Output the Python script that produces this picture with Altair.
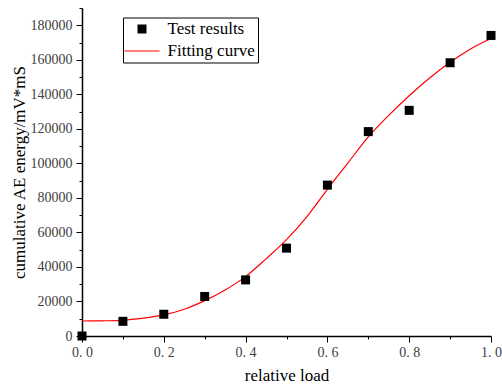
import altair as alt
import pandas as pd

# Test results
test_x = [0.0, 0.1, 0.2, 0.3, 0.4, 0.5, 0.6, 0.7, 0.8, 0.9, 1.0]
test_y = [0, 8500, 12600, 22900, 32500, 50900, 87400, 118400, 130700, 158300, 174100]

# Fitting curve
curve_x = [0.0, 0.05, 0.1, 0.15, 0.2, 0.25, 0.3, 0.35, 0.4, 0.45, 0.5,
           0.55, 0.6, 0.65, 0.7, 0.75, 0.8, 0.85, 0.9, 0.95, 1.0]
curve_y = [8700, 8800, 9100, 10300, 12200, 15500, 20500, 26700, 34400, 44700, 55800,
           69200, 85000, 100200, 115300, 127800, 139200, 149500, 158600, 166300, 172300]

series_names = ["Test results", "Fitting curve"]
x_ticks = [0.0, 0.1, 0.2, 0.3, 0.4, 0.5, 0.6, 0.7, 0.8, 0.9, 1.0]
y_ticks = list(range(0, 190001, 10000))

test_df = pd.DataFrame({"x": test_x, "y": test_y, "series": "Test results"})
curve_df = pd.DataFrame({"x": curve_x, "y": curve_y})

FONT = "Liberation Serif"

x_scale = alt.Scale(domain=[0, 1], nice=False, zero=False)
y_scale = alt.Scale(domain=[0, 190000], nice=False)

x_axis = alt.Axis(
    values=x_ticks,
    title="relative load",
    labelExpr="round(datum.value*10) % 2 == 0 ? replace(format(datum.value, '.1f'), '.', '. ') : ''",
    tickSize={"condition": {"test": "round(datum.value*10) % 2 == 0", "value": 6}, "value": 3},
    grid=False, labelFlush=False, labelOverlap=False,
    domainColor="black", domainWidth=1.5,
    tickColor="black", tickWidth=1,
    labelFont=FONT, labelFontSize=14, labelColor="#404040", labelPadding=3,
    titleFont=FONT, titleFontSize=17, titleFontWeight="normal", titleColor="black",
    titlePadding=8,
)
y_axis = alt.Axis(
    values=y_ticks,
    title="cumulative AE energy/mV*mS",
    labelExpr="round(datum.value/10000) % 2 == 0 ? format(datum.value, 'd') : ''",
    tickSize={"condition": {"test": "round(datum.value/10000) % 2 == 0", "value": 6}, "value": 3},
    grid=False, labelFlush=False, labelOverlap=False,
    domainColor="black", domainWidth=1.5,
    tickColor="black", tickWidth=1,
    labelFont=FONT, labelFontSize=14, labelColor="#404040", labelPadding=4,
    titleFont=FONT, titleFontSize=17, titleFontWeight="normal", titleColor="black",
    titlePadding=2,
)

square_path = "M-1,-1H1V1H-1Z"
line_path = "M-3.9,-0.11H3.9V0.11H-3.9Z"

legend_props = dict(
    title=None, orient="none", legendX=41, legendY=9.5,
    strokeColor="black", fillColor="white", padding=3,
    rowPadding=4, symbolSize=81, symbolStrokeWidth=0,
    symbolOffset=7.5, labelOffset=17,
    labelFont=FONT, labelFontSize=17, labelColor="black",
)

curve = alt.Chart(curve_df).mark_line(
    color="#ff0000", strokeWidth=1.2, interpolate="monotone", clip=False
).encode(
    x=alt.X("x:Q", scale=x_scale, axis=x_axis),
    y=alt.Y("y:Q", scale=y_scale, axis=y_axis),
)

points = alt.Chart(test_df).mark_point(
    filled=True, size=81, opacity=1, strokeWidth=0, clip=False
).encode(
    x=alt.X("x:Q", scale=x_scale, axis=x_axis),
    y=alt.Y("y:Q", scale=y_scale, axis=y_axis),
    color=alt.Color("series:N", scale=alt.Scale(domain=series_names, range=["black", "#ff0000"]),
                    legend=alt.Legend(**legend_props)),
    shape=alt.Shape("series:N", scale=alt.Scale(domain=series_names, range=[square_path, line_path]),
                    legend=alt.Legend(**legend_props)),
)

chart = alt.layer(curve, points).properties(
    width=409, height=328,
    autosize=alt.AutoSizeParams(type="none"),
    padding={"left": 82, "top": 8, "right": 11, "bottom": 55},
    background="white",
).configure_view(stroke=None)

chart.save("out.html", embed_options={"renderer": "svg", "actions": False})
